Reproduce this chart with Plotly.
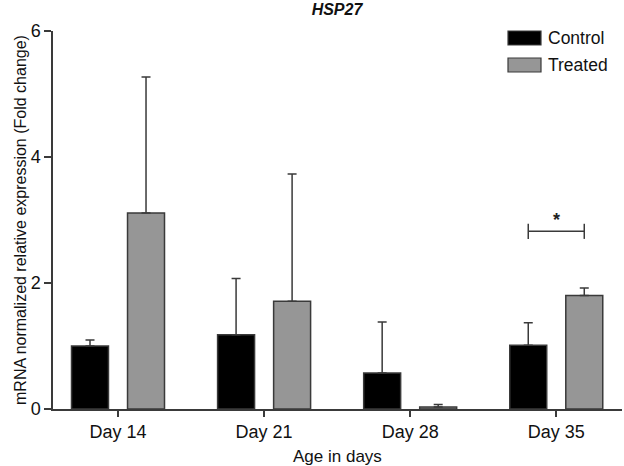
import plotly.graph_objects as go

categories = ["Day 14", "Day 21", "Day 28", "Day 35"]
control = [1.00, 1.18, 0.57, 1.01]
control_err = [0.095, 0.89, 0.81, 0.36]
treated = [3.11, 1.71, 0.03, 1.80]
treated_err = [2.16, 2.02, 0.04, 0.12]
y_ticks = [0, 2, 4, 6]
sig_category = "Day 35"
sig_level = 2.82
sig_label = "*"

FONT = "Liberation Sans, Arial, sans-serif"
EDGE = "#3a3a3a"
BARGAP = 0.233
GROUPGAP = 0.34

fig = go.Figure()
for name, vals, errs, color in [("Control", control, control_err, "#000000"),
                                ("Treated", treated, treated_err, "#969696")]:
    fig.add_trace(go.Bar(
        name=name, x=categories, y=vals, marker=dict(color=color, line=dict(color=EDGE, width=1.5)),
        error_y=dict(type="data", array=errs, arrayminus=[0]*len(errs), symmetric=False,
                     color=EDGE, thickness=1.5, width=4.5),
        showlegend=False,
    ))

# significance bracket between bar centers of the chosen category
ci = categories.index(sig_category)
half = (1 - BARGAP) / 4
x0, x1 = ci - half, ci + half
fig.add_shape(type="line", xref="x", yref="y", x0=x0, x1=x1, y0=sig_level, y1=sig_level,
              line=dict(color=EDGE, width=1.5))
for xx in (x0, x1):
    fig.add_shape(type="line", xref="x", yref="y", x0=xx, x1=xx, y0=sig_level - 0.12, y1=sig_level + 0.12,
                  line=dict(color=EDGE, width=1.5))
fig.add_annotation(x=ci, y=sig_level, xref="x", yref="y", text="<b>" + sig_label + "</b>", showarrow=False,
                   yshift=11, font=dict(family=FONT, size=18, color="#222"))

# custom legend
for i, (name, color) in enumerate([("Control", "#000000"), ("Treated", "#969696")]):
    ytop = 31 + i * 27
    fig.add_shape(type="rect", xref="paper", yref="paper",
                  x0=(508 - 53) / 569, x1=(541 - 53) / 569,
                  y0=1 - (ytop + 14 - 31) / 378, y1=1 - (ytop - 31) / 378,
                  fillcolor=color, line=dict(color=EDGE, width=1.2))
    fig.add_annotation(xref="paper", yref="paper", x=(546 - 53) / 569, y=1 - (ytop + 7 - 31) / 378,
                       text=name, showarrow=False, xanchor="left", yanchor="middle",
                       font=dict(family=FONT, size=17.5, color="#111"))

fig.add_annotation(xref="paper", yref="paper", x=-33 / 569, y=0.5, text="mRNA normalized relative expression (Fold change)",
                   textangle=-90, showarrow=False, xanchor="center", yanchor="middle",
                   font=dict(family=FONT, size=16, color="#111"))
fig.add_annotation(xref="paper", yref="paper", x=0.5, y=-47 / 378, text="Age in days",
                   showarrow=False, xanchor="center", yanchor="middle",
                   font=dict(family=FONT, size=17, color="#111"))

fig.update_layout(
    width=624, height=466,
    margin=dict(l=53, r=2, t=31, b=57),
    paper_bgcolor="white", plot_bgcolor="white",
    barmode="group", bargap=BARGAP, bargroupgap=GROUPGAP,
    title=dict(text="<b><i>HSP27</i></b>", x=337 / 624, xanchor="center", y=1 - 9 / 466, yanchor="middle",
               font=dict(family=FONT, size=16, color="#111")),
    font=dict(family=FONT, color="#111"),
)
fig.update_xaxes(range=[-0.445, 3.45], showline=True, linecolor=EDGE, linewidth=1.5,
                 ticks="outside", ticklen=6, tickwidth=1.5, tickcolor=EDGE,
                 tickfont=dict(family=FONT, size=18, color="#111"), showgrid=False, zeroline=False,
                 automargin=False)
fig.update_yaxes(range=[0, 6], tickvals=y_ticks, showline=True, linecolor=EDGE, linewidth=1.5,
                 ticks="outside", ticklen=7, tickwidth=1.5, tickcolor=EDGE,
                 tickfont=dict(family=FONT, size=18, color="#111"), showgrid=False, zeroline=False,
                 automargin=False)

fig.write_html("out.html", config={"displayModeBar": False},
               post_script="document.body.style.margin='0';")
